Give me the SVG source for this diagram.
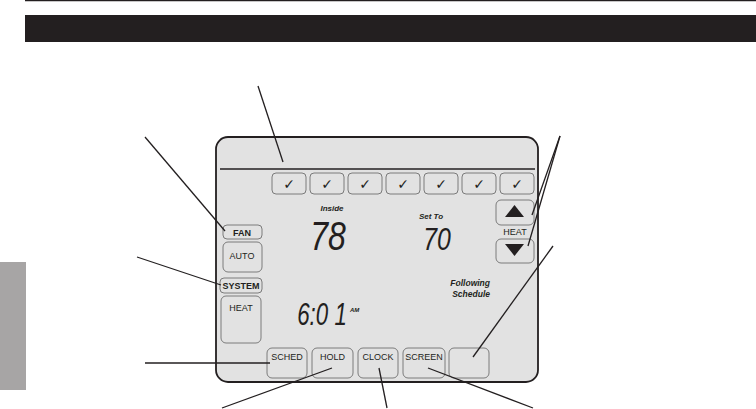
<svg xmlns="http://www.w3.org/2000/svg" width="756" height="409" viewBox="0 0 756 409">
<style>
.ln{stroke:#231f20;stroke-width:1.3;fill:none}
.btn{fill:#e2e2e2;stroke:#6f6f6f;stroke-width:0.9}
.lbl{font-family:"Liberation Sans",Arial,sans-serif;font-size:9px;fill:#231f20;text-anchor:middle}
.b{font-weight:bold}
.it{font-family:"Liberation Sans",Arial,sans-serif;font-style:italic;font-weight:bold;fill:#231f20}
.lcd{font-family:"Liberation Sans",Arial,sans-serif;font-style:italic;font-weight:normal;fill:#231f20}
.chk{font-family:"DejaVu Sans",sans-serif;font-size:14px;font-weight:bold;fill:#231f20;text-anchor:middle}
</style>
<rect width="756" height="409" fill="#ffffff"/>
<line x1="25" y1="0.6" x2="756" y2="0.6" stroke="#231f20" stroke-width="1.2"/>
<rect x="25" y="15" width="731" height="27" fill="#231f20"/>
<rect x="0" y="262" width="26" height="128" fill="#a7a5a5"/>

<g id="panel">
<rect x="216" y="137" width="322" height="245" rx="12" fill="#e2e2e2" stroke="#231f20" stroke-width="1.8"/>
<line x1="220" y1="169" x2="535" y2="169" stroke="#231f20" stroke-width="1.3"/>
</g>

<g id="days">
<rect class="btn" x="272" y="173" width="34" height="21" rx="4"/>
<rect class="btn" x="310" y="173" width="34" height="21" rx="4"/>
<rect class="btn" x="348" y="173" width="34" height="21" rx="4"/>
<rect class="btn" x="386" y="173" width="34" height="21" rx="4"/>
<rect class="btn" x="424" y="173" width="34" height="21" rx="4"/>
<rect class="btn" x="462" y="173" width="34" height="21" rx="4"/>
<rect class="btn" x="500" y="173" width="34" height="21" rx="4"/>
<text class="chk" x="289" y="189">✓</text>
<text class="chk" x="327" y="189">✓</text>
<text class="chk" x="365" y="189">✓</text>
<text class="chk" x="403" y="189">✓</text>
<text class="chk" x="441" y="189">✓</text>
<text class="chk" x="479" y="189">✓</text>
<text class="chk" x="517" y="189">✓</text>
</g>

<g id="arrows">
<rect class="btn" x="496" y="200" width="38" height="25" rx="5"/>
<polygon points="505,217 524,217 514.5,205" fill="#231f20"/>
<text class="lbl" x="515" y="235">HEAT</text>
<rect class="btn" x="496" y="239" width="38" height="24" rx="5"/>
<polygon points="505,244 524,244 514.5,256" fill="#231f20"/>
</g>

<g id="fan">
<rect class="btn" x="223" y="225" width="39" height="14" rx="4" stroke="#231f20"/>
<text class="lbl b" x="242" y="235.5" font-size="8.5">FAN</text>
<rect class="btn" x="223" y="242" width="39" height="30" rx="5"/>
<text class="lbl" x="242" y="258.5">AUTO</text>
</g>

<g id="system">
<rect class="btn" x="220" y="278" width="42" height="15" rx="4" stroke="#231f20"/>
<text class="lbl b" x="241" y="289" font-size="8.5">SYSTEM</text>
<rect class="btn" x="221" y="296" width="40" height="47" rx="5"/>
<text class="lbl" x="241" y="310.5">HEAT</text>
</g>

<g id="display">
<text class="it" x="332" y="211" font-size="8" text-anchor="middle">Inside</text>
<text class="lcd" x="328" y="250" font-size="40" text-anchor="middle" transform="translate(328 0) scale(0.8 1) translate(-328 0)">78</text>
<text class="it" x="431" y="219" font-size="8" text-anchor="middle">Set To</text>
<text class="lcd" x="437" y="250" font-size="31" text-anchor="middle" transform="translate(437 0) scale(0.8 1) translate(-437 0)">70</text>
<text class="lcd" x="322" y="325" font-size="31" text-anchor="middle" transform="translate(322 0) scale(0.72 1) translate(-322 0)">6:0 1</text>
<text class="it" x="350" y="312" font-size="6" font-weight="normal">AM</text>
<text class="it" x="490" y="286" font-size="8.5" text-anchor="end">Following</text>
<text class="it" x="490" y="297" font-size="8.5" text-anchor="end">Schedule</text>
</g>

<g id="bottom">
<rect class="btn" x="267" y="348" width="40" height="30" rx="5"/>
<text class="lbl" x="287" y="360">SCHED</text>
<rect class="btn" x="312" y="348" width="41" height="30" rx="5"/>
<text class="lbl" x="332.5" y="360">HOLD</text>
<rect class="btn" x="358" y="348" width="40" height="30" rx="5"/>
<text class="lbl" x="378" y="360">CLOCK</text>
<rect class="btn" x="403" y="348" width="42" height="30" rx="5"/>
<text class="lbl" x="424" y="360">SCREEN</text>
<rect class="btn" x="449" y="348" width="40" height="30" rx="5"/>
</g>

<g id="connectors">
<line class="ln" x1="258" y1="86" x2="283" y2="162"/>
<line class="ln" x1="145" y1="137" x2="225" y2="231"/>
<line class="ln" x1="137" y1="257" x2="221" y2="285"/>
<line class="ln" x1="145" y1="363" x2="270" y2="363"/>
<line class="ln" x1="222" y1="408" x2="332" y2="368"/>
<line class="ln" x1="387" y1="408" x2="379" y2="368"/>
<line class="ln" x1="533" y1="408" x2="428" y2="368"/>
<line class="ln" x1="553" y1="246" x2="473" y2="357"/>
<line class="ln" x1="560" y1="136" x2="532" y2="215"/>
<line class="ln" x1="560" y1="136" x2="528" y2="246"/>
</g>
</svg>
